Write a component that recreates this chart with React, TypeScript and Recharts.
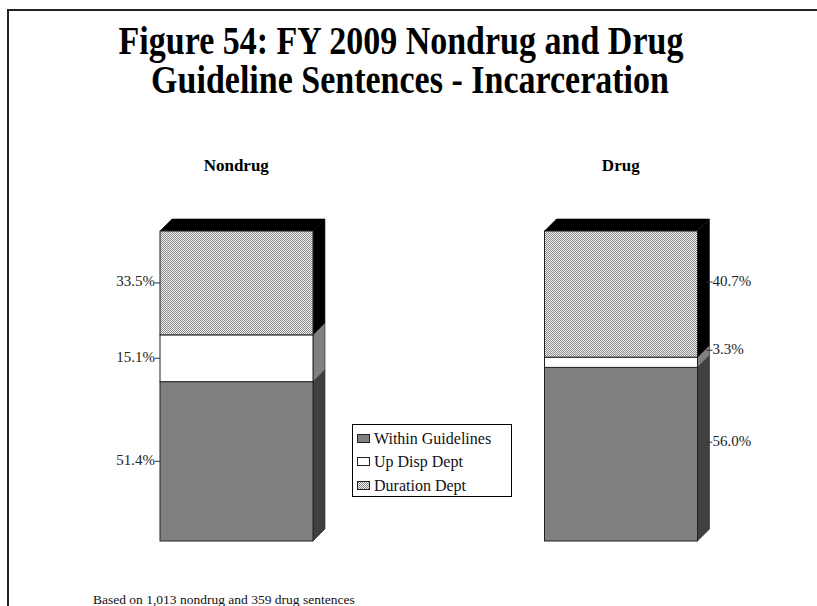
import { Bar, BarChart, LabelList, Legend, XAxis, YAxis } from "recharts";

const categories = ["Nondrug", "Drug"];
const withinGuidelines = [51.4, 56.0];
const upDispDept = [15.1, 3.3];
const durationDept = [33.5, 40.7];
const seriesNames = ["Within Guidelines", "Up Disp Dept", "Duration Dept"];

const data = categories.map((name, i) => ({
  name,
  within: withinGuidelines[i],
  up: upDispDept[i],
  duration: durationDept[i],
}));

const DEPTH = 12;
const serif = "'Liberation Serif', 'Times New Roman', serif";

function block(front: string, side: string, top?: string) {
  return (p: any) => {
    const { x, y, width: w, height: h } = p;
    return (
      <g>
        <polygon
          points={`${x + w},${y} ${x + w + DEPTH},${y - DEPTH} ${x + w + DEPTH},${y + h - DEPTH} ${x + w},${y + h}`}
          fill={side}
          stroke="#222"
          strokeWidth={0.6}
        />
        {top && (
          <polygon
            points={`${x},${y} ${x + DEPTH},${y - DEPTH} ${x + w + DEPTH},${y - DEPTH} ${x + w},${y}`}
            fill={top}
            stroke="#000"
            strokeWidth={0.6}
          />
        )}
        <rect x={x} y={y} width={w} height={h} fill={front} stroke="#222" strokeWidth={1} />
      </g>
    );
  };
}

function valueLabel(p: any) {
  const { x, y, width: w, height: h, value, index } = p;
  const left = index === 0 || (index === undefined && x < 400);
  const my = y + h / 2;
  const txt = `${Number(value).toFixed(1)}%`;
  if (left) {
    return (
      <g>
        <line x1={x - 5} y1={my} x2={x} y2={my} stroke="#333" />
        <text x={x - 5} y={my} textAnchor="end" dominantBaseline="middle" fontSize={15} fill="#222" fontFamily={serif}>
          {txt}
        </text>
      </g>
    );
  }
  const rx = x + w + DEPTH - 3;
  const ry = my - DEPTH;
  return (
    <g>
      <line x1={rx} y1={ry} x2={rx + 6} y2={ry} stroke="#333" />
      <text x={rx + 6} y={ry} textAnchor="start" dominantBaseline="middle" fontSize={15} fill="#222" fontFamily={serif}>
        {txt}
      </text>
    </g>
  );
}

function CategoryTick(p: any) {
  return (
    <text x={p.x} y={171} textAnchor="middle" fontSize={17} fontWeight="bold" fontFamily={serif} fill="#000">
      {p.payload.value}
    </text>
  );
}

const swatches = ["#808080", "#ffffff", "url(#lg2)"];

function LegendBox() {
  return (
    <div
      style={{
        width: 160,
        height: 73,
        border: "1px solid #000",
        background: "#fff",
        fontFamily: serif,
        fontSize: 16,
        color: "#111",
        boxSizing: "border-box",
        paddingTop: 2,
        textAlign: "left",
      }}
    >
      {seriesNames.map((n, i) => (
        <div key={n} style={{ display: "flex", alignItems: "center", height: 23.5, paddingLeft: 4 }}>
          <svg width={14} height={10} style={{ marginRight: 3 }}>
            <defs>
              <pattern id={`lg${i}`} width="2" height="2" patternUnits="userSpaceOnUse">
                <rect width="2" height="2" fill="#eeeeee" />
                <rect width="1" height="1" fill="#8c8c8c" />
                <rect x="1" y="1" width="1" height="1" fill="#8c8c8c" />
              </pattern>
            </defs>
            <rect x={0.5} y={0.5} width={12} height={8} fill={swatches[i]} stroke="#222" />
          </svg>
          <span>{n}</span>
        </div>
      ))}
    </div>
  );
}

export default function App() {
  return (
    <div style={{ position: "absolute", left: 0, top: 0, width: 817, height: 606, overflow: "hidden", background: "#fff" }}>
      <div
        style={{
          position: "absolute",
          left: 7,
          top: 9,
          width: 830,
          height: 700,
          borderLeft: "2px solid #222",
          borderTop: "2px solid #222",
        }}
      />
      <div
        style={{
          position: "absolute",
          left: 0,
          width: 802,
          top: 22,
          textAlign: "center",
          fontFamily: serif,
          fontWeight: "bold",
          fontSize: 34,
          lineHeight: "32px",
          transform: "scaleY(1.2)",
          transformOrigin: "top",
          color: "#000",
          whiteSpace: "nowrap",
        }}
      >
        Figure 54: FY 2009 Nondrug and Drug
        <br />
        <span style={{ display: "inline-block", width: 18 }} />
        Guideline Sentences - Incarceration
      </div>
      <div style={{ position: "absolute", left: 0, top: 0 }}>
        <BarChart width={817} height={606} data={data} margin={{ top: 171, right: 4, bottom: 65, left: 44 }} barSize={153}>
          <defs>
            <pattern id="dotFill" width="2" height="2" patternUnits="userSpaceOnUse">
              <rect width="2" height="2" fill="#eeeeee" />
              <rect width="1" height="1" fill="#8c8c8c" />
              <rect x="1" y="1" width="1" height="1" fill="#8c8c8c" />
            </pattern>
          </defs>
          <XAxis dataKey="name" orientation="top" height={60} axisLine={false} tickLine={false} tick={CategoryTick} interval={0} />
          <YAxis hide domain={[0, 100]} />
          <Legend
            layout="horizontal"
            verticalAlign="middle"
            align="center"
            content={() => <LegendBox />}
            wrapperStyle={{ position: "absolute", left: 352, top: 424, width: 160, height: 73 }}
          />
          <Bar dataKey="within" name={seriesNames[0]} stackId="a" fill="#808080" isAnimationActive={false} shape={block("#808080", "#404040")}>
            <LabelList dataKey="within" content={valueLabel} />
          </Bar>
          <Bar dataKey="up" name={seriesNames[1]} stackId="a" fill="#ffffff" isAnimationActive={false} shape={block("#ffffff", "#808080")}>
            <LabelList dataKey="up" content={valueLabel} />
          </Bar>
          <Bar dataKey="duration" name={seriesNames[2]} stackId="a" fill="url(#dotFill)" isAnimationActive={false} shape={block("url(#dotFill)", "#000000", "#000000")}>
            <LabelList dataKey="duration" content={valueLabel} />
          </Bar>
        </BarChart>
      </div>
      <div
        style={{
          position: "absolute",
          left: 93,
          top: 592,
          fontFamily: serif,
          fontSize: 13.5,
          color: "#111",
          whiteSpace: "nowrap",
        }}
      >
        Based on 1,013 nondrug and 359 drug sentences
      </div>
    </div>
  );
}
